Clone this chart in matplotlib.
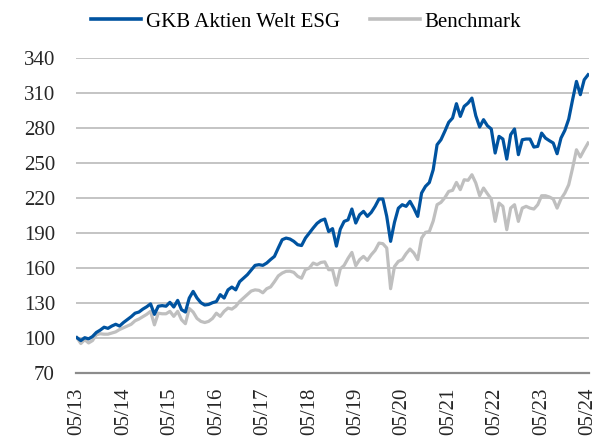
import numpy as np
import matplotlib
matplotlib.use('Agg')
import matplotlib.pyplot as plt
from matplotlib.lines import Line2D

# monthly index values, 05/2013 = 100
fund = [100, 97.5, 100, 99, 101, 104.5, 106.5, 109, 108, 110, 111.5, 110,
        113, 115.5, 118, 121, 122, 124.5, 126.5, 129, 120, 127, 127.5, 127,
        130.3, 126.3, 132, 124, 122, 134, 139.7, 134, 130, 128, 128.5, 130,
        131, 136.9, 134, 141, 143.4, 141, 148, 151, 154, 158, 162, 162.6,
        162, 164, 167, 169.7, 177, 184, 185.4, 184.6, 182.6, 179.7, 179, 185.4,
        189.7, 194, 198, 200.5, 201.7, 191, 193.5, 178.5, 193, 199.7, 201, 210.3,
        198.3, 205.4, 208.3, 204, 207.4, 212.6, 218.9, 218.9, 204, 182.6, 198.9, 211,
        214, 212.6, 216.9, 211, 204, 224, 229.7, 233, 244, 265.4, 269.7, 276.9,
        284.6, 288.3, 300.6, 289.7, 298.3, 301.1, 305.4, 290.3, 280.6, 286.9, 281.7, 278.9,
        258.3, 272.6, 270.3, 253.1, 274, 278.9, 256.9, 269.7, 270.3, 270.3, 263.4, 264,
        275.4, 271.1, 268.9, 266.9, 257.7, 271.1, 277.7, 287.4, 304, 319.7, 308.3, 321.1,
        325.4]

bench = [100, 95, 98.3, 95.5, 97.5, 102.5, 103.4, 103, 103, 104, 105, 107,
         108.5, 110, 111.5, 114.5, 116, 118, 120, 122.6, 111, 121, 120.5, 120.5,
         122.6, 118.3, 122.6, 115.4, 112, 125, 122, 116.5, 114, 113, 114, 116.5,
         121, 118.3, 122.6, 125.4, 124.5, 126.9, 131, 134, 137, 140, 141, 140.6,
         138.5, 142, 143.5, 148, 153, 155.4, 156.9, 157, 156, 152.6, 151, 158.3,
         159.7, 164, 162.6, 164.5, 165, 158.3, 158.3, 145, 159, 162, 168, 173.1,
         161.7, 166.9, 169.7, 166.3, 171.1, 174.9, 181.1, 180.6, 176.9, 142, 161, 165.4,
         166.9, 172, 176, 172.6, 166.9, 185.4, 190.3, 191, 200, 214, 216, 220,
         225.4, 226.3, 233.1, 226.9, 235.4, 234.9, 239.7, 232.6, 221.7, 228.3, 223.4, 218.9,
         199.7, 215.4, 212.6, 192.6, 211.1, 214, 199.7, 211.1, 212.6, 211.1, 210.3, 214,
         221.7, 221.7, 220.6, 218.9, 211.1, 218.9, 224, 231.1, 245.4, 261.1, 254.9, 261.1,
         266.9]

tick_labels = ['05/13', '05/14', '05/15', '05/16', '05/17', '05/18',
               '05/19', '05/20', '05/21', '05/22', '05/23', '05/24']
yticks = [70, 100, 130, 160, 190, 220, 250, 280, 310, 340]

blue = '#0053a0'
grey = '#bfbfbf'

plt.rcParams['font.family'] = ['Liberation Serif', 'DejaVu Serif']
plt.rcParams['font.size'] = 15

fig = plt.figure(figsize=(5.97, 4.44), dpi=100)
ax = fig.add_axes([0.127, 0.1606, 0.86, 0.7094])

x = np.arange(len(fund))
ax.plot(x, bench, color=grey, lw=2.3, solid_joinstyle='round', zorder=3)
ax.plot(x, fund, color=blue, lw=2.3, solid_joinstyle='round', zorder=4)

ax.set_ylim(70, 340)
ax.set_yticks(yticks)
ax.set_xlim(-0.3, len(fund) - 0.7)
ax.set_xticks(np.arange(0, 12 * len(tick_labels), 12))
ax.set_xticklabels(tick_labels, rotation=90, color='#262626')
ax.tick_params(axis='y', length=0, pad=15, colors='#262626')
ax.tick_params(axis='x', length=0, pad=11)

ax.grid(axis='y', color=grey, lw=1.3)
ax.set_axisbelow(True)
for s in ['top', 'right', 'left']:
    ax.spines[s].set_visible(False)
ax.spines['bottom'].set_color('#8c8c8c')
ax.spines['bottom'].set_linewidth(1.6)

handles = [Line2D([], [], color=blue, lw=2.6), Line2D([], [], color=grey, lw=2.6)]
fig.legend(handles, ['GKB Aktien Welt ESG', 'Benchmark'], loc='center',
           bbox_to_anchor=(0.513, 0.951), ncol=2, frameon=False,
           handlelength=2.4, handletextpad=0.25, columnspacing=1.4, fontsize=15)

fig.savefig('out.png', dpi=100)
